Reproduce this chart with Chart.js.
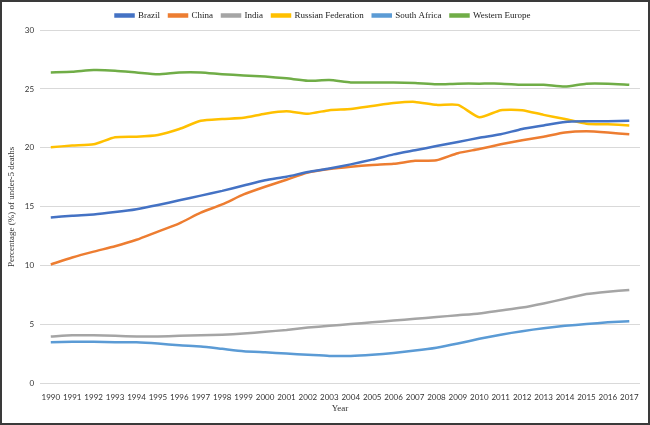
<!DOCTYPE html>
<html lang="en">
<head>
    <meta charset="UTF-8">
    <title>Percentage of under-5 deaths</title>
    <style>
        html, body {
            margin: 0;
            padding: 0;
            background-color: #fff;
        }
        .frame {
            width: 650px;
            height: 425px;
            box-sizing: border-box;
            border: 2px solid #3a3a3a;
            position: relative;
        }
        canvas {
            display: block;
        }
    </style>
    <script src="https://cdn.jsdelivr.net/npm/chart.js"></script>
</head>
<body>
<div class="frame">
    <canvas id="deathsChart" width="646" height="421"></canvas>
</div>

<script>
    // Data
    const years = ['1990', '1991', '1992', '1993', '1994', '1995', '1996', '1997', '1998', '1999',
        '2000', '2001', '2002', '2003', '2004', '2005', '2006', '2007', '2008', '2009',
        '2010', '2011', '2012', '2013', '2014', '2015', '2016', '2017'];

    const brazil = [14.1, 14.25, 14.35, 14.55, 14.8, 15.15, 15.55, 15.95, 16.35, 16.8,
        17.25, 17.55, 17.95, 18.25, 18.6, 19.0, 19.45, 19.8, 20.15, 20.5,
        20.85, 21.15, 21.6, 21.9, 22.2, 22.25, 22.25, 22.3];

    const china = [10.1, 10.7, 11.2, 11.65, 12.2, 12.9, 13.6, 14.5, 15.2, 16.05,
        16.7, 17.3, 17.9, 18.2, 18.4, 18.55, 18.65, 18.9, 18.95, 19.55,
        19.9, 20.3, 20.65, 20.95, 21.3, 21.4, 21.3, 21.15];

    const india = [4.0, 4.1, 4.1, 4.05, 4.0, 4.0, 4.05, 4.1, 4.15, 4.25,
        4.4, 4.55, 4.75, 4.9, 5.05, 5.2, 5.35, 5.5, 5.65, 5.8,
        5.95, 6.2, 6.45, 6.8, 7.2, 7.6, 7.8, 7.95];

    const russia = [20.05, 20.2, 20.3, 20.9, 20.95, 21.1, 21.6, 22.3, 22.45, 22.55,
        22.9, 23.1, 22.9, 23.2, 23.3, 23.55, 23.8, 23.9, 23.65, 23.65,
        22.6, 23.2, 23.2, 22.8, 22.45, 22.05, 22.0, 21.9];

    const southAfrica = [3.5, 3.55, 3.55, 3.5, 3.5, 3.4, 3.25, 3.15, 2.95, 2.75,
        2.65, 2.55, 2.45, 2.35, 2.35, 2.45, 2.6, 2.8, 3.05, 3.4,
        3.8, 4.15, 4.45, 4.7, 4.9, 5.05, 5.2, 5.3];

    const westernEurope = [26.4, 26.45, 26.6, 26.55, 26.4, 26.25, 26.4, 26.4, 26.25, 26.15,
        26.05, 25.9, 25.7, 25.75, 25.55, 25.55, 25.55, 25.5, 25.4, 25.45,
        25.45, 25.45, 25.35, 25.35, 25.2, 25.45, 25.45, 25.35];

    const seriesNames = ['Brazil', 'China', 'India', 'Russian Federation', 'South Africa', 'Western Europe'];
    const seriesValues = [brazil, china, india, russia, southAfrica, westernEurope];
    const seriesColors = ['#4472C4', '#ED7D31', '#A5A5A5', '#FFC000', '#5B9BD5', '#70AD47'];

    const serif = "'Liberation Serif', 'Times New Roman', serif";
    const sans = "Lato, 'Liberation Sans', sans-serif";

    const ctx = document.getElementById('deathsChart').getContext('2d');
    new Chart(ctx, {
        type: 'line',
        data: {
            labels: years,
            datasets: seriesNames.map((name, i) => ({
                label: name,
                data: seriesValues[i],
                borderColor: seriesColors[i],
                backgroundColor: seriesColors[i],
                borderWidth: 2.5,
                pointRadius: 0,
                tension: 0.2,
                fill: false
            }))
        },
        options: {
            responsive: false,
            animation: false,
            layout: {
                padding: { left: 4, right: 8, top: 0, bottom: 9 }
            },
            plugins: {
                legend: {
                    position: 'top',
                    labels: {
                        boxWidth: 18,
                        boxHeight: 2,
                        padding: 9,
                        color: '#222',
                        font: { family: serif, size: 9 }
                    }
                },
                tooltip: { enabled: false }
            },
            scales: {
                x: {
                    offset: true,
                    grid: { display: false },
                    border: { display: false },
                    ticks: {
                        color: '#333',
                        maxRotation: 0,
                        autoSkip: false,
                        padding: 1,
                        font: { family: sans, size: 8 }
                    },
                    title: {
                        display: true,
                        text: 'Year',
                        color: '#333',
                        padding: { top: 0, bottom: 0 },
                        font: { family: serif, size: 9 }
                    }
                },
                y: {
                    min: 0,
                    max: 30,
                    grid: { color: '#d9d9d9', drawTicks: false },
                    border: { display: false },
                    ticks: {
                        stepSize: 5,
                        padding: 6,
                        color: '#333',
                        font: { family: sans, size: 8 }
                    },
                    title: {
                        display: true,
                        text: 'Percentage (%) of under-5 deaths',
                        color: '#333',
                        padding: { top: 0, bottom: 2 },
                        font: { family: serif, size: 9 }
                    }
                }
            }
        }
    });
</script>
</body>
</html>
